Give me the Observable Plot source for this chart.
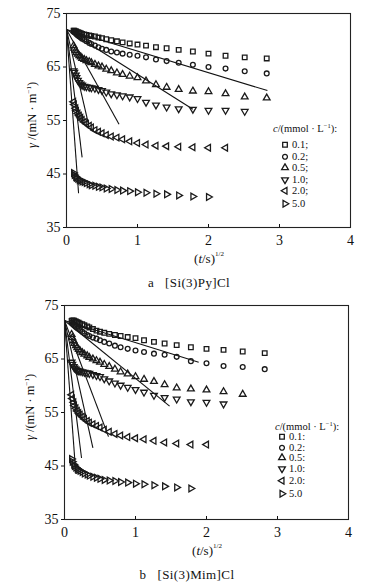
<!DOCTYPE html>
<html>
<head>
<meta charset="utf-8">
<script src="https://cdn.jsdelivr.net/npm/d3@7"></script>
<script src="https://cdn.jsdelivr.net/npm/@observablehq/plot@0.6"></script>
<style>
  body { margin: 0; background: #fff; }
  #root { position: relative; width: 390px; height: 586px; overflow: hidden; background: #fff;
          font-family: "Liberation Serif", "DejaVu Serif", serif; color: #111; }
  #root svg, #root svg text { font-family: "Liberation Serif", serif !important; }
  .abs { position: absolute; white-space: nowrap; line-height: 1; }
  .ylab { font-size: 12.5px; transform: translate(-50%, -50%) rotate(-90deg); }
  .xlab { font-size: 13px; transform: translate(-50%, -50%); }
  .xlab sup { font-size: 7px; vertical-align: 7px; }
  .cap { font-size: 13px; transform: translate(-50%, -50%); letter-spacing: 0.4px; }
  .legt { font-size: 10.5px; transform: translateY(-50%); }
  .legt sup { font-size: 6.5px; vertical-align: 4px; }
  .legr { font-size: 10.5px; transform: translateY(-50%); display: flex; align-items: center; }
</style>
</head>
<body>
<div id="root"></div>
<script>
// ---------- data ----------
const concs = ["0.1", "0.2", "0.5", "1.0", "2.0", "5.0"];
const xTicks = [0, 1, 2, 3, 4];
const yTicks = [35, 45, 55, 65, 75];
// sampling positions (t/s)^1/2
const sqrtT = [0.10, 0.11, 0.13, 0.14, 0.16, 0.18, 0.20, 0.22, 0.25, 0.28, 0.32, 0.35, 0.40, 0.45, 0.50,
               0.56, 0.63, 0.71, 0.79, 0.89, 1.00, 1.12, 1.26, 1.41, 1.58, 1.78, 2.00, 2.24, 2.51, 2.82];

// panel a: [Si(3)Py]Cl
const pyC01 = [71.8,71.8,71.7,71.6,71.5,71.4,71.3,71.2,71.1,71.0,70.9,70.8,70.7,70.5,70.4,70.2,70.0,69.8,69.6,69.4,69.2,69.0,68.7,68.5,68.2,67.9,67.5,67.1,66.8,66.6];
const pyC02 = [71.6,71.5,71.3,71.1,70.9,70.7,70.5,70.3,70.1,69.8,69.5,69.3,69.0,68.7,68.4,68.2,67.9,67.7,67.5,67.3,67.1,66.8,66.4,66.1,65.8,65.4,65.0,64.7,64.2,63.8];
const pyC05 = [69.0,68.5,68.1,67.7,67.4,67.1,66.9,66.6,66.4,66.2,66.0,65.8,65.5,65.2,65.0,64.6,64.3,63.9,63.6,63.3,63.0,62.4,61.7,61.2,60.8,60.5,60.4,60.0,59.4,59.2];
const pyC10 = [64.3,64.0,63.5,63.0,62.5,62.1,61.8,61.6,61.4,61.3,61.2,61.1,61.0,60.8,60.6,60.3,60.0,59.8,59.6,59.4,59.1,58.4,57.9,57.5,57.2,57.1,56.9,56.9,56.7];
const pyC20 = [58.5,58.0,57.3,56.8,56.3,55.9,55.5,55.1,54.7,54.4,54.0,53.7,53.2,52.9,52.6,52.3,52.0,51.8,51.5,51.1,50.8,50.5,50.3,50.2,50.1,50.0,49.9,49.9];
const pyC50 = [45.2,44.8,44.5,44.3,44.1,43.9,43.8,43.6,43.5,43.3,43.1,42.9,42.8,42.6,42.5,42.3,42.2,42.0,41.9,41.8,41.6,41.5,41.3,41.2,41.0,40.8,40.7];
const pyFitStartY = 72.0;
const pyFitEndX = [2.83, 1.78, 0.74, 0.31, 0.22, 0.17];
const pyFitEndY = [60.6, 57.1, 54.3, 54.3, 48.1, 41.4];

// panel b: [Si(3)Mim]Cl
const mimC01 = [72.1,72.2,72.2,72.1,72.0,71.9,71.8,71.6,71.5,71.3,71.1,70.9,70.6,70.3,70.1,69.9,69.7,69.5,69.3,69.1,68.9,68.5,68.2,67.9,67.6,67.2,66.9,66.7,66.4,66.1];
const mimC02 = [71.8,71.6,71.4,71.2,71.0,70.8,70.6,70.4,70.1,69.8,69.5,69.3,69.0,68.8,68.5,68.2,67.9,67.5,67.2,66.9,66.6,66.3,66.0,65.8,65.4,64.6,64.2,63.7,63.5,63.1];
const mimC05 = [69.6,69.0,68.4,67.9,67.5,67.1,66.8,66.5,66.2,65.9,65.6,65.3,65.0,64.7,64.4,64.0,63.6,63.1,62.6,62.2,61.7,61.2,60.8,60.2,59.6,59.4,59.2,58.9,58.4];
const mimC10 = [64.4,64.0,63.6,63.3,63.1,62.9,62.8,62.7,62.6,62.5,62.4,62.3,62.1,61.9,61.7,61.3,60.9,60.5,60.1,59.7,59.3,58.8,58.2,57.8,57.5,57.0,56.9,56.6];
const mimC20 = [58.3,57.6,56.9,56.3,55.8,55.3,54.9,54.6,54.2,53.8,53.4,53.1,52.8,52.5,52.2,51.8,51.4,51.0,50.7,50.4,50.2,50.0,49.7,49.4,49.2,49.0,49.0];
const mimC50 = [46.3,45.8,45.3,45.0,44.7,44.5,44.3,44.1,43.9,43.6,43.4,43.2,43.0,42.8,42.6,42.4,42.3,42.2,42.0,41.9,41.7,41.6,41.4,41.2,41.0,40.8];
const mimFitStartY = 72.2;
const mimFitEndX = [1.89, 1.48, 0.62, 0.40, 0.24, 0.16];
const mimFitEndY = [64.4, 56.2, 50.5, 48.4, 46.5, 43.5];

// ---------- symbols ----------
function tri(angleDeg) {
  return {
    draw(ctx, size) {
      const R = Math.sqrt(size / (3 * Math.sqrt(3) / 4));
      for (let k = 0; k < 3; k++) {
        const a = (angleDeg + 120 * k) * Math.PI / 180;
        const px = R * Math.cos(a), py = R * Math.sin(a);
        if (k === 0) ctx.moveTo(px, py); else ctx.lineTo(px, py);
      }
      ctx.closePath();
    }
  };
}
const symbols = [d3.symbolSquare, d3.symbolCircle, tri(-90), tri(90), tri(180), tri(0)];
const symR = [2.6, 2.4, 2.5, 2.5, 2.5, 2.5];
const INK = "#1a1a1a";
const SW = 1.3;

// ---------- chart ----------
function makePanel(seriesList, fitStartY, fitEndX, fitEndY, marginLeft) {
  const fits = concs.map((c, i) => ({c, x1: 0, y1: fitStartY, x2: fitEndX[i], y2: fitEndY[i]}));
  const dots = seriesList.map((vals, i) =>
    Plot.dot(vals.map((v, j) => ({x: sqrtT[j], y: v})), {
      x: "x", y: "y", symbol: symbols[i], r: symR[i],
      stroke: INK, strokeWidth: SW, fill: "none"
    }));
  return Plot.plot({
    width: 390, height: 250,
    marginTop: 13, marginBottom: 23, marginLeft, marginRight: 390 - marginLeft - 284,
    style: {fontFamily: "Liberation Serif, serif", fontSize: "13px", color: "#111", background: "transparent", overflow: "visible"},
    x: {domain: [0, 4]},
    y: {domain: [35, 75]},
    marks: [
      Plot.link(fits, {x1: "x1", y1: "y1", x2: "x2", y2: "y2", stroke: "#111", strokeWidth: 1.1}),
      ...dots,
      Plot.frame({stroke: "#222", strokeWidth: 1.1}),
      Plot.axisY(yTicks, {tickSize: 3, tickPadding: 3, label: null, fontSize: 14}),
      Plot.axisX(xTicks, {tickSize: 0, tickPadding: 8, label: null, fontSize: 14}),
      Plot.axisX(xTicks.slice(1, 4), {tickSize: -3, tickFormat: () => "", label: null})
    ]
  });
}

const root = document.getElementById("root");
function addDiv(cls, html, left, top) {
  const d = document.createElement("div");
  d.className = "abs " + cls;
  d.innerHTML = html;
  d.style.left = left + "px";
  d.style.top = top + "px";
  root.appendChild(d);
  return d;
}
function symSvg(i) {
  const p = d3.path();
  const size = Math.PI * symR[i] * symR[i];
  symbols[i].draw(p, size);
  return `<svg width="10" height="10" viewBox="-5 -5 10 10" style="margin-right:2px"><path d="${p.toString()}" fill="none" stroke="${INK}" stroke-width="${SW}"/></svg>`;
}

function buildPanel(cfg) {
  const svgWrap = document.createElement("div");
  svgWrap.className = "abs";
  svgWrap.style.left = cfg.left + "px";
  svgWrap.style.top = cfg.top + "px";
  svgWrap.appendChild(makePanel(cfg.series, cfg.fitStartY, cfg.fitEndX, cfg.fitEndY, 66));
  root.appendChild(svgWrap);
  const frameTop = cfg.top + 13, frameBottom = cfg.top + 227;
  addDiv("ylab", `<i>γ</i> /(mN · m<sup style="font-size:7px;vertical-align:5px">−1</sup>)`, cfg.left + 32, frameTop + 102);
  addDiv("xlab", `(<i>t</i>/s)<sup>1/2</sup>`, cfg.left + 209, frameBottom + 31);
  addDiv("cap", cfg.caption, cfg.left + 189, frameBottom + 55);
  addDiv("legt", `<i>c</i>/(mmol · L<sup>−1</sup>):`, cfg.legX, cfg.legTitleY);
  concs.forEach((c, i) => {
    addDiv("legr", symSvg(i) + `<span>${c}${i < concs.length - 1 ? cfg.sep : ""}</span>`, cfg.legX + cfg.symOffset, cfg.legRows[i]);
  });
}

buildPanel({
  series: [pyC01, pyC02, pyC05, pyC10, pyC20, pyC50],
  fitStartY: pyFitStartY, fitEndX: pyFitEndX, fitEndY: pyFitEndY,
  top: 0, left: 0,
  caption: "a&nbsp;&nbsp;&nbsp;[Si(3)Py]Cl",
  legX: 273, legTitleY: 129, symOffset: 7, sep: ";",
  legRows: [145, 156.5, 168, 179.5, 191, 204]
});
buildPanel({
  series: [mimC01, mimC02, mimC05, mimC10, mimC20, mimC50],
  fitStartY: mimFitStartY, fitEndX: mimFitEndX, fitEndY: mimFitEndY,
  top: 292, left: -2,
  caption: "b&nbsp;&nbsp;&nbsp;[Si(3)Mim]Cl",
  legX: 275, legTitleY: 427, symOffset: 2, sep: ":",
  legRows: [437, 447.5, 458, 469, 481, 494]
});
</script>
</body>
</html>
